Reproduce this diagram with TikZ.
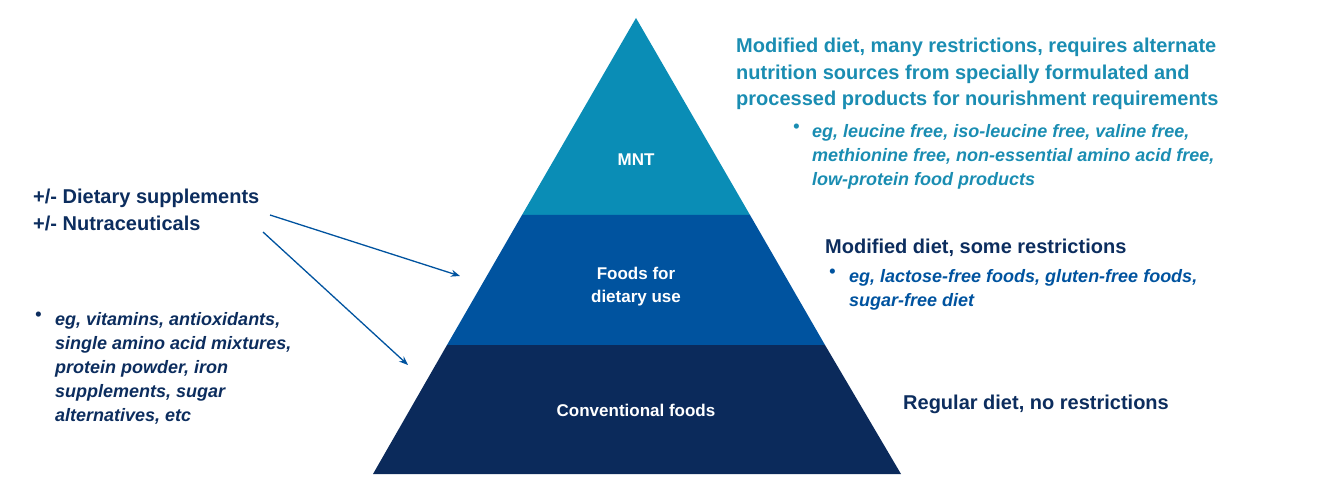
\documentclass[tikz,border=0pt]{standalone}
\usepackage{fontspec}
\setmainfont{Liberation Sans}
\usetikzlibrary{arrows.meta}
\definecolor{cTop}{HTML}{0A8DB6}
\definecolor{cMid}{HTML}{00539F}
\definecolor{cBot}{HTML}{0B2A5B}
\definecolor{tTeal}{HTML}{1A8DB2}
\definecolor{tDark}{HTML}{0C2D5E}
\tikzset{
  lbl/.style={anchor=north west,inner sep=0pt,align=left,font=\bfseries\fontsize{20}{26.5}\selectfont},
  sub/.style={anchor=north west,inner sep=0pt,align=left,font=\bfseries\itshape\fontsize{18}{24}\selectfont},
  tier/.style={text=white,font=\bfseries\fontsize{17}{23}\selectfont,align=center},
  arr/.style={draw=cMid,line width=1.3pt,-{Stealth[length=9pt,width=7pt]}}
}
\begin{document}
\begin{tikzpicture}[x=1pt,y=-1pt]
\useasboundingbox (0,0) rectangle (1333,494);
\fill[cTop] (636,18) -- (750,215) -- (522,215) -- cycle;
\fill[cMid] (522,215) -- (750,215) -- (825,345) -- (447,345) -- cycle;
\fill[cBot] (447,345) -- (825,345) -- (901,474) -- (373,474) -- cycle;
\node[tier] (mnt) at (636,160) {MNT};
\node[tier] (fdu) at (636,287) {Foods for\\dietary use};
\node[tier] (cf) at (636,410) {Conventional foods};
% right texts
\node[lbl,text=tTeal] (h1) at (736,38) {Modified diet, many restrictions, requires alternate\\nutrition sources from specially formulated and\\processed products for nourishment requirements};
\node[sub,text=tTeal] (b1) at (793,124) {•};
\node[sub,text=tTeal] (s1) at (812,124) {eg, leucine free, iso-leucine free, valine free,\\methionine free, non-essential amino acid free,\\low-protein food products};
\node[lbl,text=tDark] (h2) at (825,239) {Modified diet, some restrictions};
\node[sub,text=cMid] (b2) at (829,269) {•};
\node[sub,text=cMid] (s2) at (849,269) {eg, lactose-free foods, gluten-free foods,\\sugar-free diet};
\node[lbl,text=tDark] (h3) at (903,395) {Regular diet, no restrictions};
% left texts
\node[lbl,text=tDark] (l1) at (33,189) {+/- Dietary supplements\\+/- Nutraceuticals};
\node[sub,text=tDark] (b3) at (35,312) {•};
\node[sub,text=tDark] (s3) at (55,312) {eg, vitamins, antioxidants,\\single amino acid mixtures,\\protein powder, iron\\supplements, sugar\\alternatives, etc};
\coordinate (a1s) at (270,215);
\coordinate (a1e) at (460,276);
\coordinate (a2s) at (263,232);
\coordinate (a2e) at (408,365);
\draw[arr] (a1s) -- (a1e);
\draw[arr] (a2s) -- (a2e);
\end{tikzpicture}
\end{document}
